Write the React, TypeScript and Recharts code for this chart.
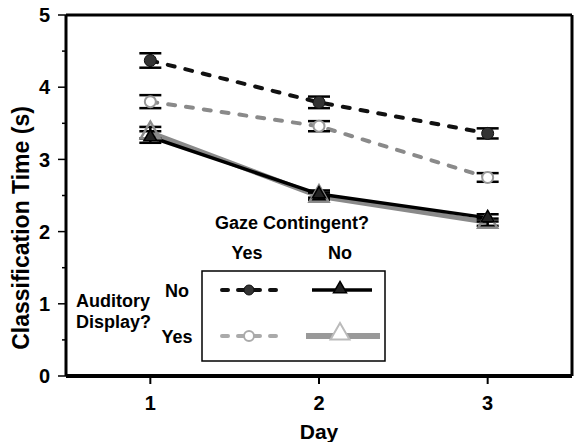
import React from 'react';
import { ComposedChart, Line, XAxis, YAxis, ErrorBar, ReferenceLine } from 'recharts';

const days = [1, 2, 3];
// Auditory display: No / Gaze contingent: Yes (black dashed, filled circle)
const audNoGazeYes = [4.37, 3.79, 3.36];
const audNoGazeYesErr = [0.1, 0.08, 0.07];
// Auditory display: Yes / Gaze contingent: Yes (grey dashed, open circle)
const audYesGazeYes = [3.8, 3.46, 2.75];
const audYesGazeYesErr = [0.09, 0.07, 0.06];
// Auditory display: No / Gaze contingent: No (black solid, filled triangle)
const audNoGazeNo = [3.31, 2.52, 2.19];
const audNoGazeNoErr = [0.08, 0.05, 0.05];
// Auditory display: Yes / Gaze contingent: No (grey solid, open triangle)
const audYesGazeNo = [3.37, 2.49, 2.13];
const audYesGazeNoErr = [0.08, 0.05, 0.05];

const xTicks = [1, 2, 3];
const yTicks = [0, 0.5, 1, 1.5, 2, 2.5, 3, 3.5, 4, 4.5, 5];

const data = days.map((d, i) => ({
  day: d,
  bc: audNoGazeYes[i],
  bcErr: audNoGazeYesErr[i],
  gc: audYesGazeYes[i],
  gcErr: audYesGazeYesErr[i],
  bt: audNoGazeNo[i],
  btErr: audNoGazeNoErr[i],
  gt: audYesGazeNo[i],
  gtErr: audYesGazeNoErr[i],
}));

const FONT = '"Liberation Sans", Arial, Helvetica, sans-serif';
const GREY = '#8a8a8a';

const tri = (cx: number, cy: number, s: number) =>
  `M${cx},${cy - s * 0.577} L${cx + s / 2},${cy + s * 0.289} L${cx - s / 2},${cy + s * 0.289} Z`;

const BlackCircle = (p: any) =>
  p.cx == null ? <g key={p.key} /> : <circle key={p.key} cx={p.cx} cy={p.cy} r={6} fill="#333" stroke="#111" strokeWidth={1} />;
const GreyCircle = (p: any) =>
  p.cx == null ? <g key={p.key} /> : <circle key={p.key} cx={p.cx} cy={p.cy} r={5.5} fill="#fff" stroke="#999" strokeWidth={2} />;
const BlackTri = (p: any) =>
  p.cx == null ? <g key={p.key} /> : <path key={p.key} d={tri(p.cx, p.cy, 13)} fill="#222" stroke="#000" strokeWidth={1.5} />;
const GreyTri = (p: any) =>
  p.cx == null ? <g key={p.key} /> : <path key={p.key} d={tri(p.cx, p.cy, 19)} fill="none" stroke={GREY} strokeWidth={2.5} />;

const LeftTick = (p: any) => {
  const v = p.payload.value;
  const major = Math.abs(v - Math.round(v)) < 1e-6;
  const ax = p.x + 16;
  return (
    <g>
      <line x1={major ? ax - 8 : ax - 4} x2={ax} y1={p.y} y2={p.y} stroke="#000" strokeWidth={1.5} />
      {major && (
        <text x={p.x} y={p.y} dy="0.36em" textAnchor="end" fontSize={20} fontWeight="bold" fontFamily={FONT} fill="#000">
          {v}
        </text>
      )}
    </g>
  );
};

export default function App() {
  return (
    <div style={{ position: 'absolute', left: 0, top: 0, width: 576, height: 442, background: '#fff' }}>
      <ComposedChart width={576} height={442} data={data} margin={{ top: 15, right: 0, bottom: 0, left: 0 }}>
        <XAxis
          dataKey="day"
          type="number"
          domain={[0.5, 3.5]}
          ticks={xTicks}
          height={66}
          tickSize={8}
          tickMargin={12}
          axisLine={{ stroke: '#000', strokeWidth: 4 }}
          tickLine={{ stroke: '#000', strokeWidth: 2 }}
          tick={{ fontSize: 20, fontWeight: 'bold', fill: '#000', fontFamily: FONT }}
          label={{ value: 'Day', position: 'insideBottom', offset: 3, fontSize: 21, fontWeight: 'bold', fill: '#000', fontFamily: FONT }}
        />
        <YAxis
          yAxisId="left"
          type="number"
          domain={[0, 5]}
          ticks={yTicks}
          width={66}
          tickSize={8}
          tickMargin={8}
          interval={0}
          axisLine={{ stroke: '#000', strokeWidth: 3 }}
          tickLine={false}
          tick={<LeftTick />}
        />
        <YAxis
          yAxisId="right"
          orientation="right"
          type="number"
          domain={[0, 5]}
          ticks={yTicks}
          width={4}
          tickSize={4}
          interval={0}
          axisLine={{ stroke: '#000', strokeWidth: 3 }}
          tickLine={{ stroke: '#000', strokeWidth: 1.5 }}
          tick={false}
        />
        <ReferenceLine yAxisId="left" y={5} stroke="#000" strokeWidth={3} />

        <Line yAxisId="left" dataKey="gt" stroke={GREY} strokeWidth={5} dot={GreyTri} activeDot={false} isAnimationActive={false} />
        <Line yAxisId="left" dataKey="bt" stroke="#000" strokeWidth={3.5} dot={BlackTri} activeDot={false} isAnimationActive={false} />
        <Line yAxisId="left" dataKey="gc" stroke={GREY} strokeWidth={4} strokeDasharray="7 11" strokeLinecap="round" dot={GreyCircle} activeDot={false} isAnimationActive={false} />
        <Line yAxisId="left" dataKey="bc" stroke="#111" strokeWidth={4} strokeDasharray="7 11" strokeLinecap="round" dot={BlackCircle} activeDot={false} isAnimationActive={false} />

        <Line yAxisId="left" dataKey="gt" stroke="none" dot={false} activeDot={false} isAnimationActive={false}>
          <ErrorBar dataKey="gtErr" width={11} stroke="#000" strokeWidth={2.5} direction="y" />
        </Line>
        <Line yAxisId="left" dataKey="bt" stroke="none" dot={false} activeDot={false} isAnimationActive={false}>
          <ErrorBar dataKey="btErr" width={11} stroke="#000" strokeWidth={2.5} direction="y" />
        </Line>
        <Line yAxisId="left" dataKey="gc" stroke="none" dot={false} activeDot={false} isAnimationActive={false}>
          <ErrorBar dataKey="gcErr" width={11} stroke="#000" strokeWidth={2.5} direction="y" />
        </Line>
        <Line yAxisId="left" dataKey="bc" stroke="none" dot={false} activeDot={false} isAnimationActive={false}>
          <ErrorBar dataKey="bcErr" width={11} stroke="#000" strokeWidth={2.5} direction="y" />
        </Line>
      </ComposedChart>

      <svg width={576} height={442} style={{ position: 'absolute', left: 0, top: 0, pointerEvents: 'none' }}>
        <g fontFamily={FONT} fontWeight="bold" fill="#000">
          <text x={21} y={228} transform="rotate(-90 21 228)" textAnchor="middle" dy="0.36em" fontSize={23}>
            Classification Time (s)
          </text>
          <text x={292} y={223} textAnchor="middle" dy="0.36em" fontSize={18}>Gaze Contingent?</text>
          <text x={247} y={252.5} textAnchor="middle" dy="0.36em" fontSize={18}>Yes</text>
          <text x={340} y={252.5} textAnchor="middle" dy="0.36em" fontSize={18}>No</text>
          <text x={177} y={290.5} textAnchor="middle" dy="0.36em" fontSize={18}>No</text>
          <text x={177} y={337} textAnchor="middle" dy="0.36em" fontSize={18}>Yes</text>
          <text x={76} y={300.7} textAnchor="start" dy="0.36em" fontSize={18}>Auditory</text>
          <text x={76} y={321.7} textAnchor="start" dy="0.36em" fontSize={18}>Display?</text>
        </g>
        <rect x={202} y={271} width={183} height={90} fill="none" stroke="#000" strokeWidth={1.5} />
        <line x1={222} x2={276} y1={290} y2={290} stroke="#111" strokeWidth={4} strokeDasharray="6 10 22 10 6" strokeLinecap="round" />
        <circle cx={249} cy={290} r={5} fill="#333" stroke="#111" strokeWidth={1} />
        <line x1={312} x2={372} y1={290} y2={290} stroke="#000" strokeWidth={3.5} />
        <path d={tri(340, 289, 13)} fill="#222" stroke="#000" strokeWidth={1.5} />
        <line x1={222} x2={276} y1={336} y2={336} stroke="#aaa" strokeWidth={4} strokeDasharray="6 10 22 10 6" strokeLinecap="round" />
        <circle cx={249} cy={336} r={5} fill="#fff" stroke="#aaa" strokeWidth={2} />
        <line x1={306} x2={380} y1={336} y2={336} stroke="#999" strokeWidth={6} />
        <path d={tri(340, 334, 19)} fill="#fff" stroke="#bbb" strokeWidth={2} />
      </svg>
    </div>
  );
}
